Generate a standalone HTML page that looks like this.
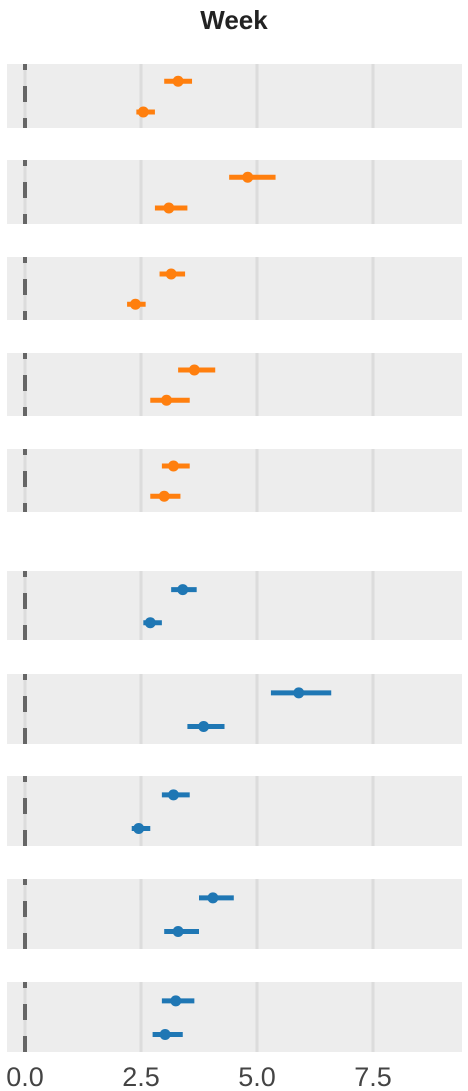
<!DOCTYPE html>
<html><head><meta charset="utf-8"><style>
html,body{margin:0;padding:0;background:#fff;}
svg{display:block;font-family:"Liberation Sans",sans-serif;}
</style></head><body>
<svg id="chart" width="468" height="1091" viewBox="0 0 468 1091">
<text x="234" y="29" text-anchor="middle" font-size="26" font-weight="bold" fill="#222">Week</text>
</svg>
<script>
const ticks=[0,2.5,5,7.5];
const tickLabels=["0.0","2.5","5.0","7.5"];
const bands=[[64,128],[160,224],[257,320],[353,416],[449,512],[571,640],[674,744],[776,846],[879,949],[982,1052]];
const colors=["#ff7f0e","#ff7f0e","#ff7f0e","#ff7f0e","#ff7f0e","#1f77b4","#1f77b4","#1f77b4","#1f77b4","#1f77b4"];
const topMean=[3.3,4.8,3.15,3.65,3.2,3.4,5.9,3.2,4.05,3.25];
const topLo=[3.0,4.4,2.9,3.3,2.95,3.15,5.3,2.95,3.75,2.95];
const topHi=[3.6,5.4,3.45,4.1,3.55,3.7,6.6,3.55,4.5,3.65];
const botMean=[2.55,3.1,2.38,3.05,3.0,2.7,3.85,2.45,3.3,3.02];
const botLo=[2.4,2.8,2.2,2.7,2.7,2.55,3.5,2.3,3.0,2.75];
const botHi=[2.8,3.5,2.6,3.55,3.35,2.95,4.3,2.7,3.75,3.4];
const X=v=>25+46.4*v;
const svg=document.getElementById('chart');
const NS='http://www.w3.org/2000/svg';
function mk(t,a){const e=document.createElementNS(NS,t);for(const k in a)e.setAttribute(k,a[k]);svg.appendChild(e);return e;}
bands.forEach((b,i)=>{
  const [y0,y1]=b;
  const r=mk('rect',{x:7,y:y0,width:455,height:y1-y0,fill:'#ededed'});
  
  
  ticks.forEach(t=>{
    const g=mk('line',{x1:X(t),x2:X(t),y1:y0,y2:y1,stroke:'#dcdcdc','stroke-width':3});
    
    
  });
  const d=mk('line',{x1:X(0),x2:X(0),y1:y0,y2:y1,stroke:'#666','stroke-width':4,'stroke-dasharray':'16,16','stroke-dashoffset':10});
  
  
  const h=y1-y0;
  const yt=y0+h*0.27, yb=y0+h*0.75;
  const l1=mk('line',{x1:X(topLo[i]),x2:X(topHi[i]),y1:yt,y2:yt,stroke:colors[i],'stroke-width':5});
  
  
  const c1=mk('circle',{cx:X(topMean[i]),cy:yt,r:5.5,fill:colors[i]});
  
  
  const l2=mk('line',{x1:X(botLo[i]),x2:X(botHi[i]),y1:yb,y2:yb,stroke:colors[i],'stroke-width':5});
  
  
  const c2=mk('circle',{cx:X(botMean[i]),cy:yb,r:5.5,fill:colors[i]});
  
  
});
ticks.forEach((t,i)=>{
  const tx=mk('text',{x:X(t),y:1086,'text-anchor':'middle','font-size':27,fill:'#444'});
  tx.textContent=tickLabels[i];
  
  
});
</script>
</body></html>
